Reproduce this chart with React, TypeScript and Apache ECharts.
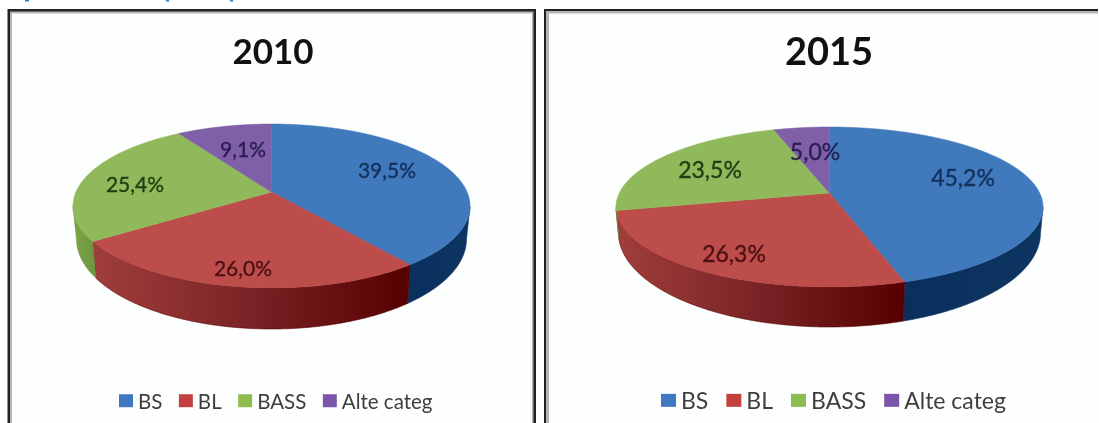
import React, { useEffect, useRef } from "react";
import * as echarts from "echarts";

const categories = ["BS", "BL", "BASS", "Alte categ"];
const values2010 = [39.5, 26.0, 25.4, 9.1];
const values2015 = [45.2, 26.3, 23.5, 5.0];
const years = ["2010", "2015"];

const topColors = ["#4079bc", "#bd4d4a", "#90b95b", "#7e5fa8"];
const legendColors = ["#3f78c0", "#c4403f", "#8cbb52", "#7a55a8"];
const labelColors = ["#12305a", "#4c1012", "#1f3c12", "#2c1c50"];
const sideStops: string[][] = [
  ["#0a2f5c", "#0e3562"],
  ["#a03e3b", "#7a2326", "#560000"],
  ["#7da545", "#6c9640"],
  ["#5e4580", "#5e4580"],
];

const layouts = [
  {
    cx: 271.5, cy: 206, rx: 198.5, ry: 82, a: 0.17, cx2: 271.5, cy2: 239, rx2: 195, ry2: 90,
    labelAt: [[387, 169], [243, 267], [135, 183], [243, 148]], labelSize: 21,
    titleX: 268, titleSize: 35, titleTop: 27,
    legendLeft: 119, legendSize: 20.5, legendGap: 16.5, swatch: 14,
  },
  {
    cx: 829.5, cy: 207, rx: 213.5, ry: 80, a: 0.175, cx2: 829.5, cy2: 233, rx2: 211, ry2: 94,
    labelAt: [[963, 177], [734, 253], [710, 169], [815, 151]], labelSize: 23,
    titleX: 824, titleSize: 38, titleTop: 26,
    legendLeft: 661, legendSize: 23, legendGap: 18, swatch: 15,
  },
];

const FONT = "Lato, 'Open Sans', sans-serif";

function circlePoint(thetaDeg: number, a: number) {
  const t = (thetaDeg * Math.PI) / 180;
  const x = Math.sin(t);
  const y = Math.cos(t);
  const d = 1 + a * y;
  return { u: (x * Math.sqrt(1 - a * a)) / d, v: (y + a) / d };
}

function makeRender(valuesList: number[], L: typeof layouts[number], idx: number) {
  return (_params: any, api: any) => {
    const value = api.value(0) as number;
    const total = valuesList.reduce((s, v) => s + v, 0);
    const before = valuesList.slice(0, idx).reduce((s, v) => s + v, 0);
    const start = (before / total) * 360;
    const end = ((before + value) / total) * 360;
    const top: number[][] = [[L.cx, L.cy - L.ry * L.a]];
    const upper: number[][] = [];
    const lower: number[][] = [];
    const steps = Math.max(2, Math.ceil((end - start) / 0.25));
    for (let k = 0; k <= steps; k++) {
      const th = start + ((end - start) * k) / steps;
      const p = circlePoint(th, L.a);
      top.push([L.cx + L.rx * p.u, L.cy - L.ry * p.v]);
      if (p.v <= 0) {
        upper.push([L.cx + L.rx * p.u, L.cy - L.ry * p.v]);
        lower.push([L.cx2 + L.rx2 * p.u, L.cy2 - L.ry2 * p.v]);
      }
    }
    const children: any[] = [];
    if (upper.length > 1) {
      const stops = sideStops[idx];
      const fill = {
        type: "linear", x: 0, y: 0, x2: 1, y2: 0,
        colorStops: stops.map((color, i) => ({ offset: i / (stops.length - 1), color })),
      };
      children.push({
        type: "polygon",
        shape: { points: upper.concat(lower.slice().reverse()) },
        style: { fill, stroke: stops[stops.length - 1], lineWidth: 0.6 },
      });
    }
    children.push({
      type: "polygon",
      shape: { points: top },
      style: { fill: topColors[idx], stroke: topColors[idx], lineWidth: 0.5 },
    });
    children.push({
      type: "text",
      style: {
        text: value.toFixed(1).replace(".", ",") + "%",
        x: L.labelAt[idx][0], y: L.labelAt[idx][1],
        align: "center", verticalAlign: "middle",
        fill: labelColors[idx], stroke: labelColors[idx], lineWidth: 0.35,
        font: `${L.labelSize}px ${FONT}`,
      },
    });
    return { type: "group", children };
  };
}

function bar(x: number, y: number, width: number, height: number, fill: string) {
  return { type: "rect", silent: true, z: 0, shape: { x, y, width, height }, style: { fill } };
}

export default function App() {
  const ref = useRef<HTMLDivElement>(null);
  useEffect(() => {
    const chart = echarts.init(ref.current!, undefined, { renderer: "svg" });
    const all = [values2010, values2015];
    const series: any[] = [];
    all.forEach((vals, c) => {
      categories.forEach((name, i) => {
        series.push({
          type: "custom",
          name,
          coordinateSystem: "none",
          silent: true,
          itemStyle: { color: legendColors[i] },
          data: [vals[i]],
          renderItem: makeRender(vals, layouts[c], i),
          z: 2,
        });
      });
    });
    chart.setOption({
      animation: false,
      backgroundColor: "#ffffff",
      title: layouts.map((L, c) => ({
        text: years[c],
        left: L.titleX,
        top: L.titleTop,
        textAlign: "center",
        textStyle: { fontFamily: FONT, fontWeight: "bold", fontSize: L.titleSize, color: "#111111" },
      })),
      legend: layouts.map((L) => ({
        data: categories,
        left: L.legendLeft,
        top: 401.5 - L.legendSize * 0.55,
        orient: "horizontal",
        icon: "rect",
        itemWidth: L.swatch,
        itemHeight: 13,
        itemGap: L.legendGap,
        padding: 0,
        selectedMode: false,
        textStyle: { fontFamily: FONT, fontSize: L.legendSize, color: "#3e3e3e" },
      })),
      graphic: [
        // clipped blue heading fragments along the top edge
        bar(25, 0, 4, 1.5, "#2f7fc0"),
        bar(166, 0, 3, 1.5, "#2f7fc0"),
        bar(230, 0, 3, 1.5, "#2f7fc0"),
        // left panel
        bar(7.5, 9, 528.5, 414, "#222222"),
        bar(10, 11.5, 523.5, 411.5, "#b4b6b6"),
        bar(12, 13.5, 520, 409.5, "#fdfefe"),
        // right panel
        bar(544, 9, 554, 414, "#222222"),
        bar(546, 11, 552, 412, "#b4b6b6"),
        bar(549, 13.5, 549, 409.5, "#fdfefe"),
      ],
      series,
    });
    return () => chart.dispose();
  }, []);
  return (
    <div
      ref={ref}
      style={{ position: "absolute", left: 0, top: 0, width: 1099, height: 423, filter: "blur(0.5px)" }}
    />
  );
}
